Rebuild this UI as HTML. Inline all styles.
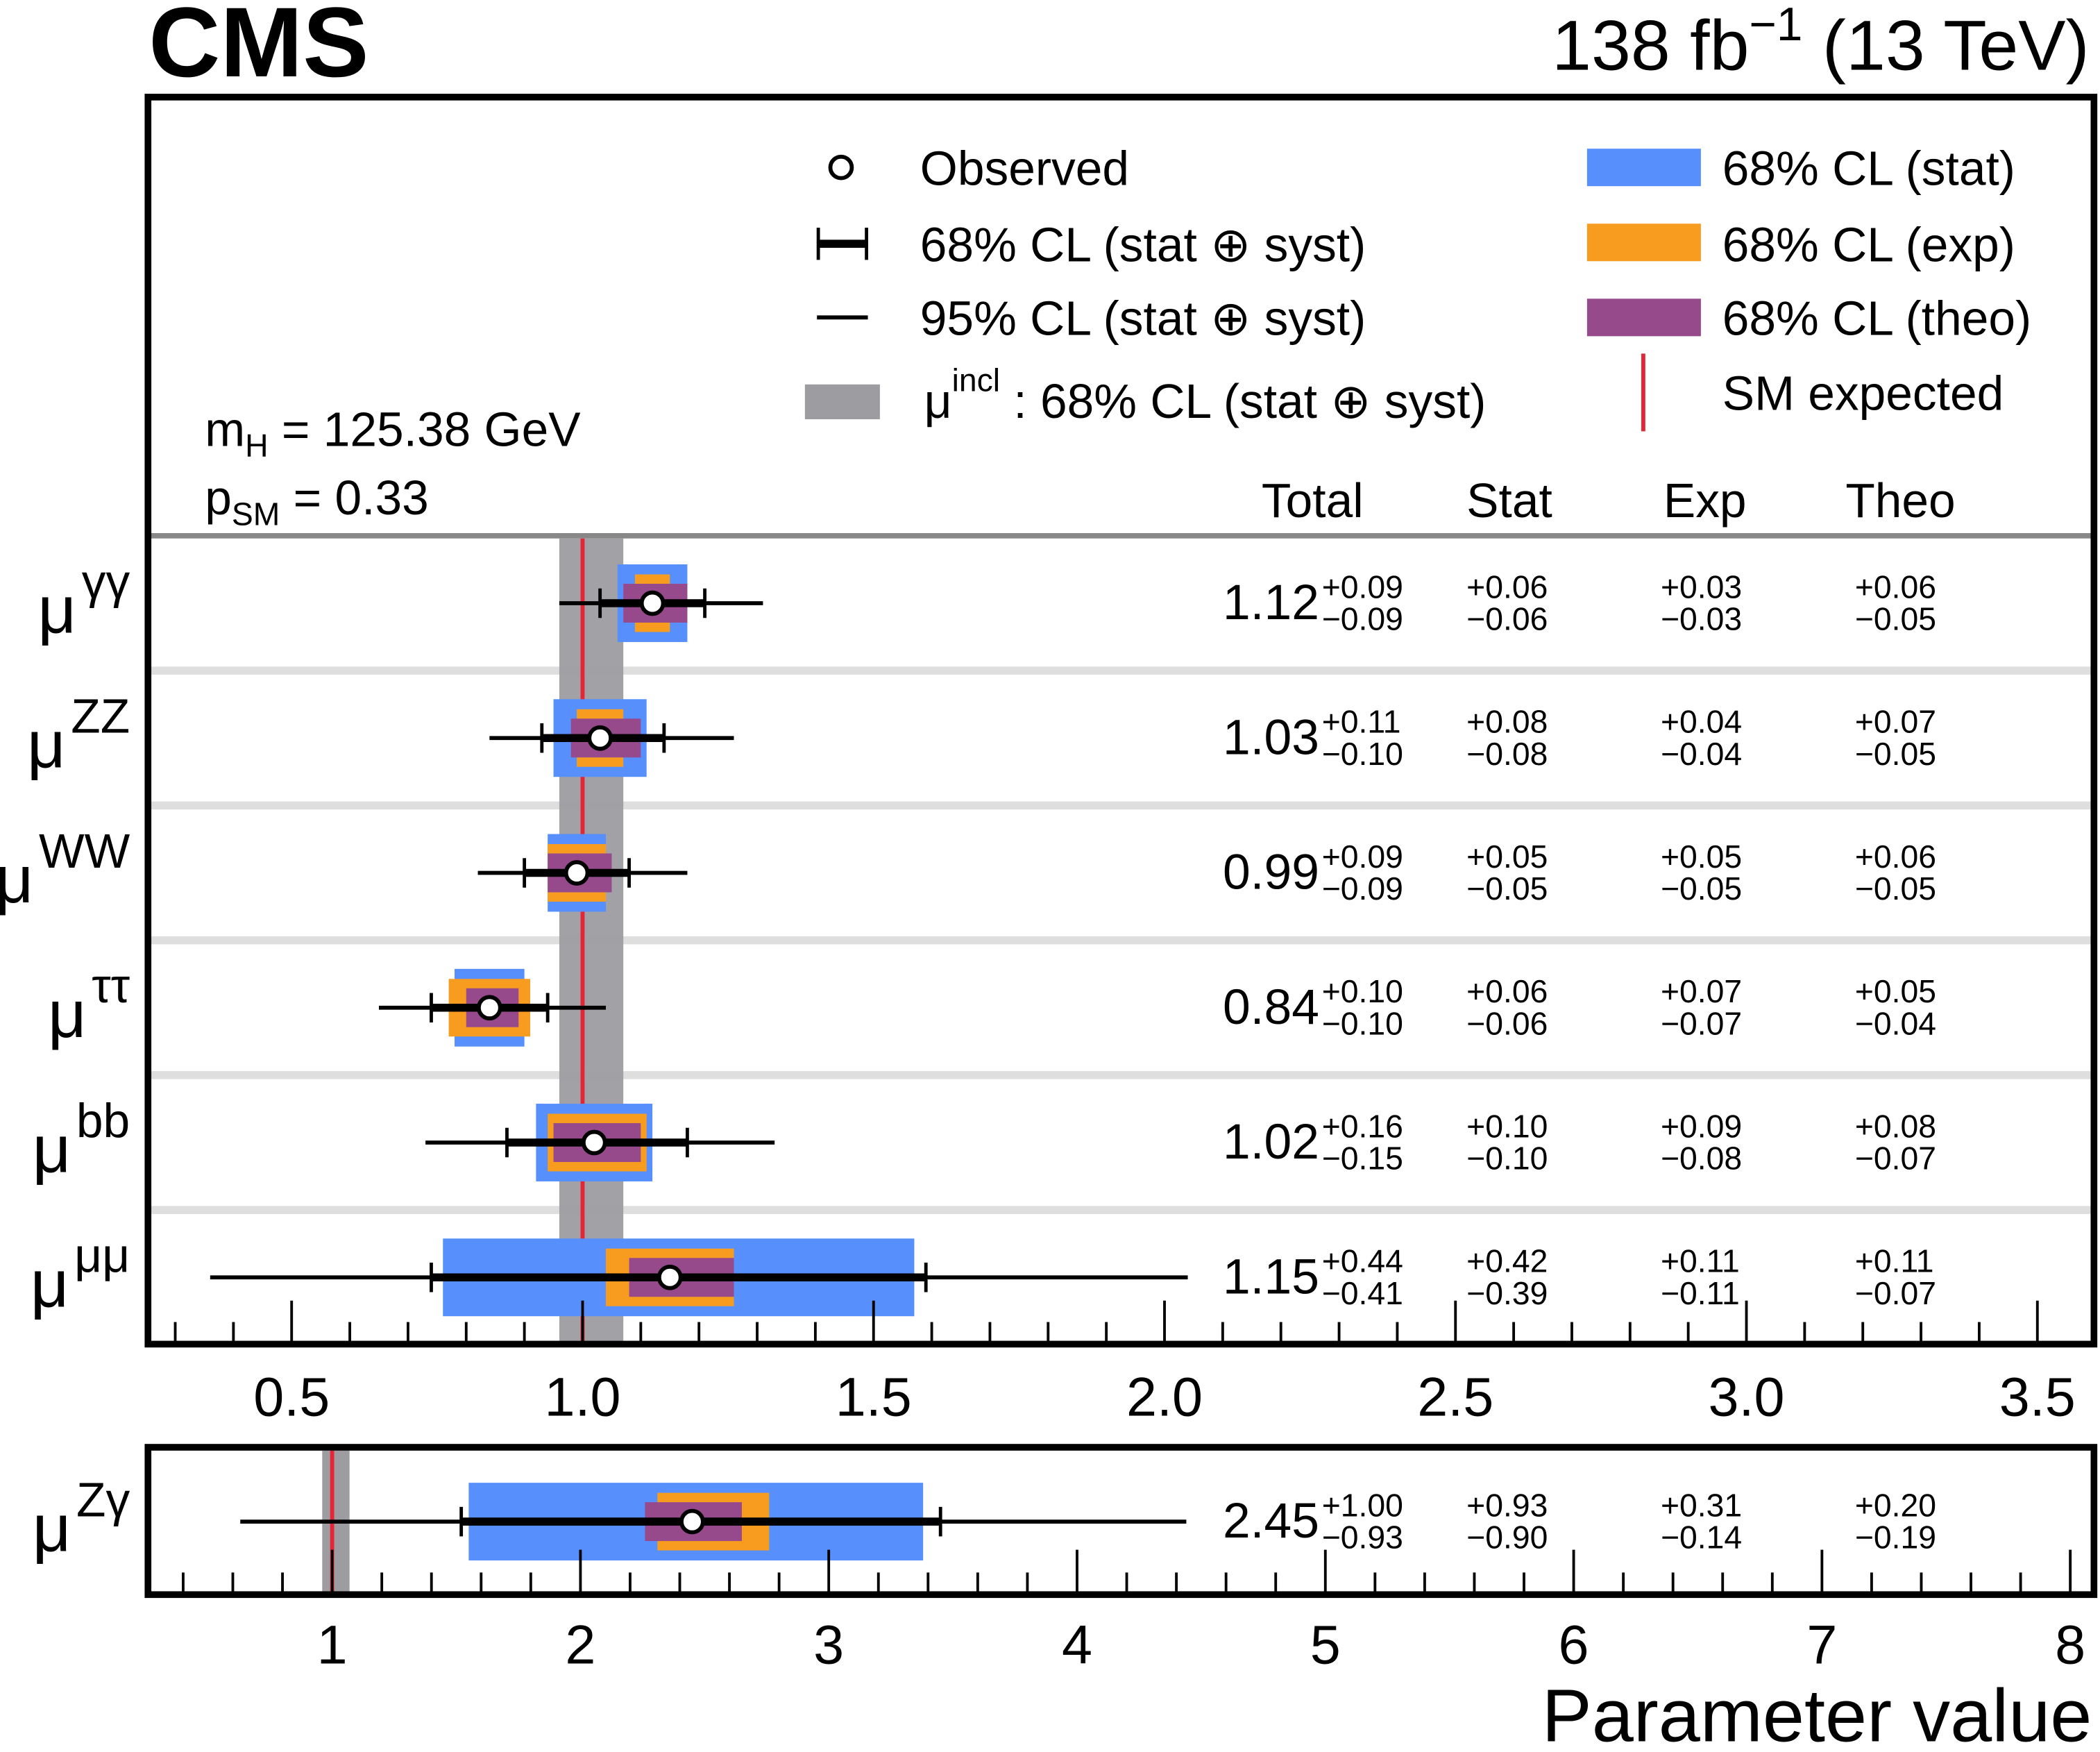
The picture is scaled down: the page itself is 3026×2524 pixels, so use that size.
<!DOCTYPE html>
<html><head><meta charset="utf-8"><style>
html,body{margin:0;padding:0;background:#fff;}
svg{display:block;font-family:"Liberation Sans",Arial,sans-serif;}
</style></head><body>
<svg id="chart" xmlns="http://www.w3.org/2000/svg" width="3026" height="2524" viewBox="0 0 1568 1308" preserveAspectRatio="none">
<rect x="0" y="0" width="1568" height="1308" fill="#fff"/>
<text x="111" y="57" font-size="74" font-weight="bold">CMS</text>
<text x="1560" y="52" font-size="53" text-anchor="end">138 fb<tspan dy="-22" font-size="35">−1</tspan><tspan dy="22"> (13 TeV)</tspan></text>
<g id="main"></g>
<g id="legend">
  <circle cx="628" cy="125" r="8" fill="#fff" stroke="#000" stroke-width="3"/>
  <text x="687" y="138" font-size="36">Observed</text>
  <line x1="610" y1="182" x2="648" y2="182" stroke="#000" stroke-width="6"/>
  <line x1="611" y1="170" x2="611" y2="194" stroke="#000" stroke-width="2.5"/>
  <line x1="647" y1="170" x2="647" y2="194" stroke="#000" stroke-width="2.5"/>
  <text x="687" y="195" font-size="36">68% CL (stat ⊕ syst)</text>
  <line x1="610" y1="237" x2="648" y2="237" stroke="#000" stroke-width="3"/>
  <text x="687" y="250" font-size="36">95% CL (stat ⊕ syst)</text>
  <rect x="601" y="287" width="56" height="26" fill="#9c9ca1"/>
  <text x="690" y="312" font-size="36">μ<tspan dy="-20" font-size="24">incl</tspan><tspan dy="20"> : 68% CL (stat ⊕ syst)</tspan></text>
  <rect x="1185" y="111" width="85" height="28" fill="#5790fc"/>
  <text x="1286" y="138" font-size="36">68% CL (stat)</text>
  <rect x="1185" y="167" width="85" height="28" fill="#f89c20"/>
  <text x="1286" y="195" font-size="36">68% CL (exp)</text>
  <rect x="1185" y="223" width="85" height="28" fill="#964a8b"/>
  <text x="1286" y="250" font-size="36">68% CL (theo)</text>
  <line x1="1227" y1="264" x2="1227" y2="322" stroke="#e42536" stroke-width="3"/>
  <text x="1286" y="306" font-size="36">SM expected</text>
</g>
<text x="153" y="333" font-size="36">m<tspan dy="8" font-size="24">H</tspan><tspan dy="-8"> = 125.38 GeV</tspan></text>
<text x="153" y="384" font-size="36">p<tspan dy="8" font-size="24">SM</tspan><tspan dy="-8"> = 0.33</tspan></text>
<text x="942" y="386" font-size="36">Total</text>
<text x="1095" y="386" font-size="36">Stat</text>
<text x="1242" y="386" font-size="36">Exp</text>
<text x="1378" y="386" font-size="36">Theo</text>
<text x="1562" y="1300" font-size="56" text-anchor="end">Parameter value</text>
</svg>
<script>
const labels = ["γγ","ZZ","WW","ττ","bb","μμ"];
const central = [1.12,1.03,0.99,0.84,1.02,1.15];
const totUp = [0.09,0.11,0.09,0.10,0.16,0.44];
const totDn = [0.09,0.10,0.09,0.10,0.15,0.41];
const statUp = [0.06,0.08,0.05,0.06,0.10,0.42];
const statDn = [0.06,0.08,0.05,0.06,0.10,0.39];
const expUp = [0.03,0.04,0.05,0.07,0.09,0.11];
const expDn = [0.03,0.04,0.05,0.07,0.08,0.11];
const theoUp = [0.06,0.07,0.06,0.05,0.08,0.11];
const theoDn = [0.05,0.05,0.05,0.04,0.07,0.07];
const lo95 = [0.96,0.84,0.82,0.65,0.73,0.36];
const hi95 = [1.31,1.26,1.18,1.04,1.33,2.04];
const mainTicks = ["0.5","1.0","1.5","2.0","2.5","3.0","3.5"];
const zgLabel = ["Zγ"];
const zgCentral = [2.45];
const zgTot = [1.00,0.93];
const zgStat = [0.93,0.90];
const zgExp = [0.31,0.14];
const zgTheo = [0.20,0.19];
const zg95 = [0.63,4.44];
const zgTicks = ["1","2","3","4","5","6","7","8"];
const inclBand = [0.96,1.07];
const smValue = 1.0;

const NS="http://www.w3.org/2000/svg";
const gMain=document.getElementById('main');
function mk(tag,attrs){const e=document.createElementNS(NS,tag);for(const k in attrs)e.setAttribute(k,attrs[k]);gMain.appendChild(e);return e;}
const xMain=v=>435+(v-1)*434.5;
const xZg=v=>248+(v-1)*185.4;
const fmt=v=>v.toFixed(2);

function drawRow(xf,c,tu,td,su,sd,eu,ed,hu,hd,l95,h95,cy,label,name){
  let e;
  e=mk('rect',{x:xf(c-sd),y:cy-29,width:xf(c+su)-xf(c-sd),height:58,fill:'#5790fc'});
  
  
  e=mk('rect',{x:xf(c-ed),y:cy-21.5,width:xf(c+eu)-xf(c-ed),height:43,fill:'#f89c20'});
  
  
  e=mk('rect',{x:xf(c-hd),y:cy-14.5,width:xf(c+hu)-xf(c-hd),height:29,fill:'#964a8b'});
  
  
  e=mk('line',{x1:xf(l95),x2:xf(h95),y1:cy,y2:cy,stroke:'#000','stroke-width':3});
  
  
  e=mk('line',{x1:xf(c-td),x2:xf(c+tu),y1:cy,y2:cy,stroke:'#000','stroke-width':6});
  
  
  [c-td,c+tu].forEach(v=>{
    const cap=mk('line',{x1:xf(v),x2:xf(v),y1:cy-11,y2:cy+11,stroke:'#000','stroke-width':2.5});
    
    
  });
  e=mk('circle',{cx:xf(c),cy:cy,r:8,fill:'#fff',stroke:'#000','stroke-width':3});
  
  
  e=mk('text',{x:97,y:cy+22,'font-size':50,'text-anchor':'end'});
  
  
  e.innerHTML='μ<tspan dx="4" dy="-26" font-size="36">'+label+'</tspan>';
  e=mk('text',{x:913,y:cy+12,'font-size':37});
  
  
  e.textContent=fmt(c);
  const cols=[[987,tu,td],[1095,su,sd],[1240,eu,ed],[1385,hu,hd]];
  cols.forEach(([x,u,d])=>{
    const t1=mk('text',{x:x,y:cy-4,'font-size':24});
    
    
    t1.textContent='+'+fmt(u);
    const t2=mk('text',{x:x,y:cy+20,'font-size':24});
    
    
    t2.textContent='−'+fmt(d);
  });
}

const yTop=400,yBot=1004;
const rowH=(yBot-yTop)/labels.length;
for(let i=1;i<labels.length;i++){
  const y=yTop+i*rowH;
  const sep=mk('rect',{x:110,y:y-3,width:1454,height:6,fill:'#dedede'});
  
  
}
const hdr=mk('rect',{x:110,y:398,width:1454,height:4,fill:'#888'});


let b=mk('rect',{x:xMain(inclBand[0]),y:402,width:xMain(inclBand[1])-xMain(inclBand[0]),height:600,fill:'#9c9ca1','fill-opacity':0.95});


let s=mk('line',{x1:xMain(smValue),x2:xMain(smValue),y1:402,y2:1002,stroke:'#e42536','stroke-width':3});


labels.forEach((l,i)=>{
  const cy=yTop+(i+0.5)*rowH;
  drawRow(xMain,central[i],totUp[i],totDn[i],statUp[i],statDn[i],expUp[i],expDn[i],theoUp[i],theoDn[i],lo95[i],hi95[i],cy,l,'row-'+i);
});
for(let k=3;k<=35;k++){
  const v=k/10;const x=xMain(v);const major=k%5===0;
  const tk=mk('line',{x1:x,x2:x,y1:1004,y2:major?971:987,stroke:'#000','stroke-width':2});
  
  
}
mainTicks.forEach(t=>{
  const e=mk('text',{x:xMain(parseFloat(t)),y:1057,'font-size':41,'text-anchor':'middle'});
  
  
  e.textContent=t;
});
let f=mk('rect',{x:110.5,y:72.5,width:1453,height:931,fill:'none',stroke:'#000','stroke-width':5});



const zc=1136;
b=mk('rect',{x:xZg(inclBand[0]),y:1083,width:xZg(inclBand[1])-xZg(inclBand[0]),height:106,fill:'#9c9ca1'});


s=mk('line',{x1:xZg(smValue),x2:xZg(smValue),y1:1083,y2:1189,stroke:'#e42536','stroke-width':3});


drawRow(xZg,zgCentral[0],zgTot[0],zgTot[1],zgStat[0],zgStat[1],zgExp[0],zgExp[1],zgTheo[0],zgTheo[1],zg95[0],zg95[1],zc,zgLabel[0],'row-zg');
for(let k=2;k<=40;k++){
  const v=k/5;const x=xZg(v);if(x<112||x>1562)continue;const major=k%5===0;
  const tk=mk('line',{x1:x,x2:x,y1:1191,y2:major?1157:1174,stroke:'#000','stroke-width':2});
  
  
}
zgTicks.forEach(t=>{
  const e=mk('text',{x:xZg(parseFloat(t)),y:1242,'font-size':41,'text-anchor':'middle'});
  
  
  e.textContent=t;
});
f=mk('rect',{x:110.5,y:1080.5,width:1453,height:110,fill:'none',stroke:'#000','stroke-width':5});


</script>
</body></html>
